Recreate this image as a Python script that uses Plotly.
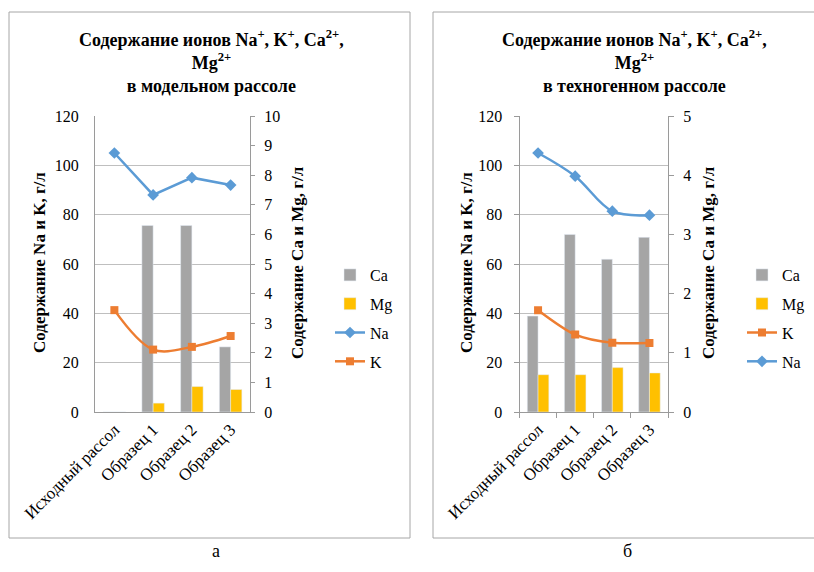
import plotly.graph_objects as go

categories = ["Исходный рассол", "Образец 1", "Образец 2", "Образец 3"]

# Chart a (model brine)
a_ca = [0, 6.3, 6.3, 2.2]
a_mg = [0, 0.3, 0.86, 0.76]
a_na = [105, 88, 95, 92]
a_k = [41.3, 25.3, 26.4, 30.8]

# Chart б (technogenic brine)
b_ca = [1.62, 3.0, 2.58, 2.95]
b_mg = [0.63, 0.63, 0.75, 0.66]
b_na = [105, 95.6, 81.4, 79.8]
b_k = [41.3, 31.4, 28.1, 28.0]

left_ticks = [0, 20, 40, 60, 80, 100, 120]
a_right_ticks = list(range(0, 11))
b_right_ticks = list(range(0, 6))

W, H = 814, 572
FONT = "Liberation Serif"
C_CA, C_MG, C_NA, C_K = "#A5A5A5", "#FFC000", "#5B9BD5", "#ED7D31"
GRID = "#BFBFBF"
AXL = "#9A9A9A"

def px(x):
    return x / W

def py(y):
    return 1 - y / H

fig = go.Figure()

# ---- chart a ----
fig.add_trace(go.Bar(x=categories, y=a_ca, name="Ca", marker_color=C_CA, xaxis="x", yaxis="y",
                     legend="legend", legendgroup="a1"))
fig.add_trace(go.Bar(x=categories, y=a_mg, name="Mg", marker_color=C_MG, xaxis="x", yaxis="y",
                     legend="legend", legendgroup="a2"))
fig.add_trace(go.Scatter(x=categories, y=a_na, name="Na", mode="lines+markers", xaxis="x", yaxis="y2",
                         line=dict(color=C_NA, width=2.5), marker=dict(symbol="diamond", size=9, color=C_NA),
                         legend="legend", legendgroup="a3"))
fig.add_trace(go.Scatter(x=categories, y=a_k, name="K", mode="lines+markers", xaxis="x", yaxis="y2",
                         line=dict(color=C_K, width=2.5, shape="spline", smoothing=1),
                         marker=dict(symbol="square", size=8, color=C_K),
                         legend="legend", legendgroup="a4"))

# ---- chart б ----
fig.add_trace(go.Bar(x=categories, y=b_ca, name="Ca", marker_color=C_CA, xaxis="x2", yaxis="y3",
                     legend="legend2", legendgroup="b1"))
fig.add_trace(go.Bar(x=categories, y=b_mg, name="Mg", marker_color=C_MG, xaxis="x2", yaxis="y3",
                     legend="legend2", legendgroup="b2"))
fig.add_trace(go.Scatter(x=categories, y=b_k, name="K", mode="lines+markers", xaxis="x2", yaxis="y4",
                         line=dict(color=C_K, width=2.5, shape="spline", smoothing=0.8),
                         marker=dict(symbol="square", size=8, color=C_K),
                         legend="legend2", legendgroup="b3"))
fig.add_trace(go.Scatter(x=categories, y=b_na, name="Na", mode="lines+markers", xaxis="x2", yaxis="y4",
                         line=dict(color=C_NA, width=2.5, shape="spline", smoothing=1),
                         marker=dict(symbol="diamond", size=9, color=C_NA),
                         legend="legend2", legendgroup="b4"))

tickfont = dict(family=FONT, size=16, color="#000")
catfont = dict(family=FONT, size=17, color="#000")
ydom = [py(412), py(116)]
xa_dom = [px(95), px(250)]
xb_dom = [px(519.5), px(668)]

common_x = dict(type="category", tickangle=-45, tickfont=catfont, showgrid=False,
                showline=True, linecolor=AXL, linewidth=1, fixedrange=True, automargin=False)

fig.update_layout(
    width=W, height=H,
    margin=dict(l=0, r=0, t=0, b=0, autoexpand=False),
    paper_bgcolor="white", plot_bgcolor="white",
    barmode="group", bargap=0.42, bargroupgap=0,
    font=dict(family=FONT, size=16, color="#000"),
    showlegend=True,
    xaxis=dict(domain=xa_dom, anchor="y", ticks="", **common_x),
    yaxis=dict(domain=ydom, anchor="x", side="right", range=[0, 10], tickvals=a_right_ticks,
               ticks="outside", ticklen=4, tickcolor=AXL, showline=True, linecolor=AXL,
               showgrid=False, zeroline=False, tickfont=tickfont, ticklabelstandoff=6, automargin=False),
    yaxis2=dict(overlaying="y", anchor="x", side="left", range=[0, 120], tickvals=left_ticks,
                ticks="", showline=True, linecolor=AXL, showgrid=True, gridcolor=GRID,
                zeroline=False, tickfont=tickfont, ticklabelstandoff=12, automargin=False),
    xaxis2=dict(domain=xb_dom, anchor="y3", ticks="outside", ticklen=5, tickcolor=AXL,
                tickson="boundaries", **common_x),
    yaxis3=dict(domain=ydom, anchor="x2", side="right", range=[0, 5], tickvals=b_right_ticks,
                ticks="outside", ticklen=5, tickcolor=AXL, showline=True, linecolor=AXL,
                showgrid=False, zeroline=False, tickfont=tickfont, ticklabelstandoff=6, automargin=False),
    yaxis4=dict(overlaying="y3", anchor="x2", side="left", range=[0, 120], tickvals=left_ticks,
                ticks="outside", ticklen=5, tickcolor=AXL, showline=True, linecolor=AXL,
                showgrid=True, gridcolor=GRID, zeroline=False, tickfont=tickfont, ticklabelstandoff=8,
                automargin=False),
    legend=dict(x=px(330), y=py(258), xanchor="left", yanchor="top", bgcolor="rgba(0,0,0,0)",
                font=dict(family=FONT, size=16), traceorder="grouped", tracegroupgap=5, itemwidth=30),
    legend2=dict(x=px(742), y=py(258), xanchor="left", yanchor="top", bgcolor="rgba(0,0,0,0)",
                 font=dict(family=FONT, size=16), traceorder="grouped", tracegroupgap=5, itemwidth=30),
)

title_a = "Содержание ионов Na<sup>+</sup>, K<sup>+</sup>, Ca<sup>2+</sup>,<br>Mg<sup>2+</sup><br>в модельном рассоле"
title_b = "Содержание ионов Na<sup>+</sup>, K<sup>+</sup>, Ca<sup>2+</sup>,<br>Mg<sup>2+</sup><br>в техногенном рассоле"
tfont = dict(family=FONT, size=18, color="#000")
afont = dict(family=FONT, size=17, color="#000")
ann = [
    dict(text="<b>" + title_a + "</b>", x=px(211), y=py(62), showarrow=False, font=tfont,
         xref="paper", yref="paper", xanchor="center", yanchor="middle"),
    dict(text="<b>" + title_b + "</b>", x=px(634), y=py(62), showarrow=False, font=tfont,
         xref="paper", yref="paper", xanchor="center", yanchor="middle"),
    dict(text="<b>Содержание Na и K, г/л</b>", x=px(39), y=py(263), textangle=-90, showarrow=False,
         font=afont, xref="paper", yref="paper", xanchor="center"),
    dict(text="<b>Содержание Ca и Mg, г/л</b>", x=px(297), y=py(263), textangle=-90, showarrow=False,
         font=afont, xref="paper", yref="paper", xanchor="center"),
    dict(text="<b>Содержание Na и K, г/л</b>", x=px(466), y=py(263), textangle=-90, showarrow=False,
         font=afont, xref="paper", yref="paper", xanchor="center"),
    dict(text="<b>Содержание Ca и Mg, г/л</b>", x=px(708), y=py(263), textangle=-90, showarrow=False,
         font=afont, xref="paper", yref="paper", xanchor="center"),
    dict(text="а", x=px(210), y=py(563), showarrow=False, font=dict(family=FONT, size=18, color="#000"),
         xref="paper", yref="paper"),
    dict(text="б", x=px(634), y=py(563), showarrow=False, font=dict(family=FONT, size=18, color="#000"),
         xref="paper", yref="paper"),
]
fig.update_layout(annotations=ann)

fig.update_layout(shapes=[
    dict(type="rect", xref="paper", yref="paper", x0=px(9), x1=px(410), y0=py(538), y1=py(12),
         line=dict(color="#A6A6A6", width=1), fillcolor="rgba(0,0,0,0)", layer="below"),
    dict(type="rect", xref="paper", yref="paper", x0=px(433), x1=px(830), y0=py(538), y1=py(12),
         line=dict(color="#A6A6A6", width=1), fillcolor="rgba(0,0,0,0)", layer="below"),
])

fig.write_html("out.html")
